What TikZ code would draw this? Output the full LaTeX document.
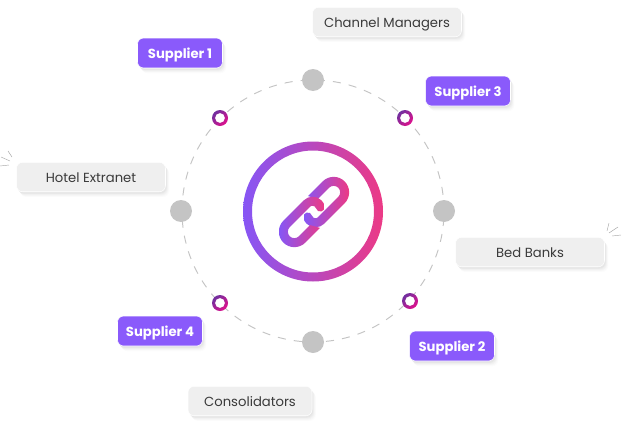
\documentclass[tikz,border=0pt]{standalone}
\usepackage{fontspec}
\setmainfont{Poppins}
\usepackage{xcolor}
\usetikzlibrary{shadows}
\definecolor{violetbox}{HTML}{8A5AFB}
\definecolor{greybox}{HTML}{EFEFEF}
\definecolor{greydot}{HTML}{C4C4C4}
\definecolor{linkleft}{HTML}{8656F5}
\definecolor{linkright}{HTML}{EC3A85}
\definecolor{ringpink}{HTML}{E0108C}
\definecolor{ringpurple}{HTML}{70309F}
\definecolor{textgrey}{HTML}{3A3A3A}
\tikzset{
  softshadow/.style={
    drop shadow={shadow xshift=2.2pt, shadow yshift=-3pt, opacity=0.012, fill=black},
    drop shadow={shadow xshift=1.8pt, shadow yshift=-2.5pt, opacity=0.016, fill=black},
    drop shadow={shadow xshift=1.4pt, shadow yshift=-2pt, opacity=0.02, fill=black},
    drop shadow={shadow xshift=1pt, shadow yshift=-1.5pt, opacity=0.024, fill=black},
    drop shadow={shadow xshift=0.6pt, shadow yshift=-1pt, opacity=0.03, fill=black}},
  supplierbox/.style={softshadow, rectangle, rounded corners=3.5pt, fill=violetbox, draw=white, line width=0.3pt,
    minimum width=1.7cm, minimum height=0.6cm, text=white, text height=6.5pt, text depth=0.5pt,
    font=\fontsize{7.5}{10}\selectfont\bfseries},
  sourcebox/.style={softshadow, rectangle, rounded corners=3.5pt, fill=greybox, draw=white, line width=0.3pt,
    minimum height=0.59cm, text=textgrey, text height=6.5pt, text depth=0.5pt,
    font=\fontsize{7.5}{10}\selectfont},
  graydot/.style={circle, fill=greydot, minimum size=0.44cm, inner sep=0pt},
  tick/.style={draw=gray!70, line width=0.25pt}
}
\begin{document}
\begin{tikzpicture}[x=0.02cm, y=0.02cm]
  \useasboundingbox (0,0) rectangle (625,434);
  % Dashed orbit
  \draw[greydot, line width=0.55pt, dash pattern=on 4.6pt off 4.6pt] (313,223) circle (131);
  % Grey stops on the orbit
  \foreach \name/\x/\y in {top/313/354,right/444/223,bottom/313/92,left/181/223} {
    \node[graydot] (dot\name) at (\x,\y) {};
  }
  % Small gradient rings
  \foreach \x/\y in {220/316,405/316,410/133,220/131} {
    \fill[white] (\x,\y) circle (6);
    \shade[even odd rule, left color=ringpurple, right color=ringpink, shading angle=45]
      (\x,\y) circle (8) (\x,\y) circle (5);
  }
  % Centre ring
  \shade[even odd rule, left color=linkleft, right color=linkright]
    (313,222.5) circle (70) (313,222.5) circle (61);
  % Chain links, clipped so the gradient stays horizontal
  \foreach \a/\xa/\xb in {45/304/349,225/279/324} {
    \begin{scope}
      \clip[shift={(314,222)}, rotate=\a]
        (7,15.5) -- (27.8,15.5) arc (90:-90:15.5) -- (-1,-15.5)
        arc (270:150:12.5) arc (150:-30:4.5) arc (150:270:3.5)
        -- (27.8,-6.5) arc (-90:90:6.5) -- (12,6.5) -- cycle;
      \shade[left color=linkleft, right color=linkright] (\xa,170) rectangle (\xb,274);
    \end{scope}
  }
  % Suppliers
  \node[supplierbox] (supplierone) at (180,381) {Supplier 1};
  \node[supplierbox] (suppliertwo) at (452,88) {Supplier 2};
  \node[supplierbox] (supplierthree) at (468,343) {Supplier 3};
  \node[supplierbox] (supplierfour) at (160,103) {Supplier 4};
  % Sources
  \node[sourcebox, minimum width=2.98cm] (channel) at (387,412) {Channel Managers};
  \node[sourcebox, minimum width=2.98cm] (hotel) at (91,257) {Hotel Extranet};
  \node[sourcebox, minimum width=2.98cm] (bedbanks) at (530,182) {Bed Banks};
  \node[sourcebox, minimum width=2.48cm] (consolidators) at (250,33) {Consolidators};
  % Sparks
  \draw[tick] (1,277) -- (10,273);
  \draw[tick] (0,268) -- (9,269);
  \draw[tick] (8,283) -- (12,277);
  \draw[tick] (607,203) -- (609,211);
  \draw[tick] (609,201) -- (618,207);
  \draw[tick] (612,198) -- (621,199);
\end{tikzpicture}
\end{document}
